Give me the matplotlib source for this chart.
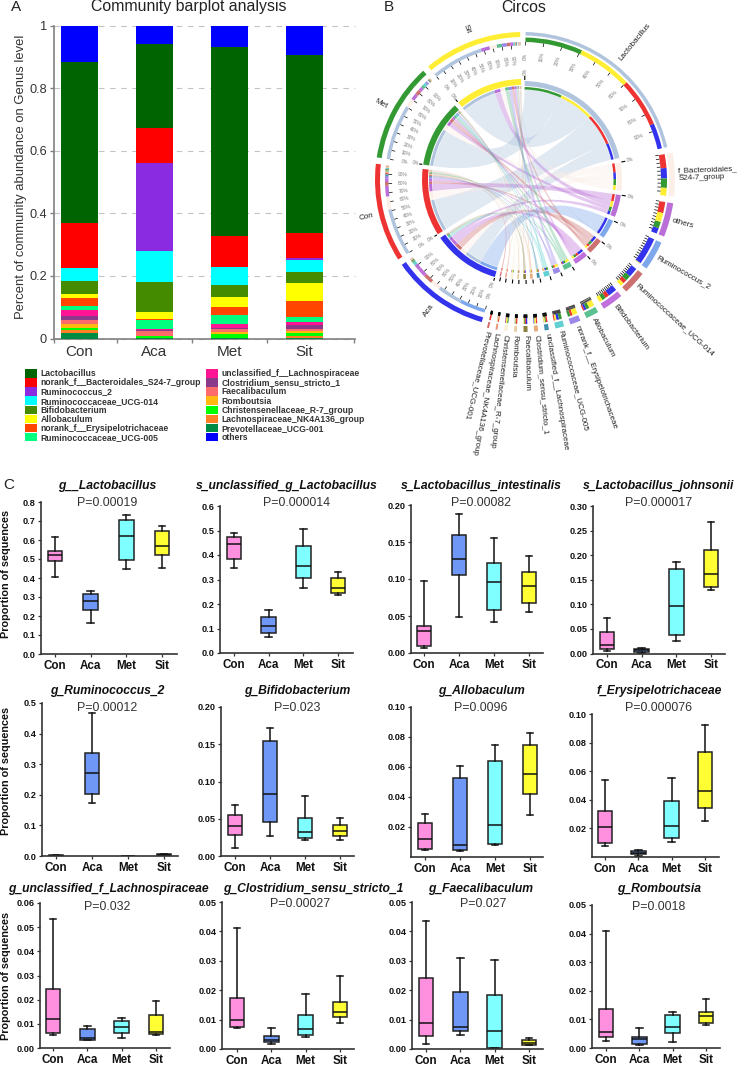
import matplotlib
matplotlib.use('Agg')
import matplotlib.pyplot as plt
from matplotlib.patches import Wedge, PathPatch, Patch
from matplotlib.path import Path
import numpy as np

plt.rcParams['font.family'] = ['Liberation Sans', 'DejaVu Sans']

W, H = 739, 1065

groups = ['Con', 'Aca', 'Met', 'Sit']

# stacked abundance, bottom of the bar first
genera = ['Prevotellaceae_UCG-001', 'Lachnospiraceae_NK4A136_group', 'Christensenellaceae_R-7_group',
          'Romboutsia', 'Faecalibaculum', 'Clostridium_sensu_stricto_1', 'unclassified_f__Lachnospiraceae',
          'Ruminococcaceae_UCG-005', 'norank_f__Erysipelotrichaceae', 'Allobaculum', 'Bifidobacterium',
          'Ruminococcaceae_UCG-014', 'Ruminococcus_2', 'norank_f__Bacteroidales_S24-7_group', 'Lactobacillus',
          'others']
con = [.016, .011, .006, .013, .013, .014, .017, .013, .025, .014, .041, .041, .001, .143, .516, .116]
aca = [.001, .002, .004, .002, .014, .005, .003, .028, .002, .024, .094, .100, .283, .109, .270, .059]
met = [.001, .001, .013, .006, .008, .006, .011, .030, .024, .032, .040, .056, .001, .097, .606, .068]
sit = [.001, .006, .011, .006, .005, .013, .011, .016, .052, .057, .035, .037, .006, .081, .570, .093]
bar_colors = ['#008B45', '#FF7F24', '#00FF00', '#FFB90F', '#FF6A6A', '#8B3A8B', '#FF1493', '#00FF7F',
              '#FF4500', '#FFFF00', '#458B00', '#00FFFF', '#8A2BE2', '#FF0000', '#006400', '#0000FF']

# circos
circos_order = ['Lactobacillus', 'norank_f__Bacteroidales_S24-7_group', 'others', 'Ruminococcus_2',
                'Ruminococcaceae_UCG-014', 'Bifidobacterium', 'Allobaculum', 'norank_f__Erysipelotrichaceae',
                'Ruminococcaceae_UCG-005', 'unclassified_f__Lachnospiraceae', 'Clostridium_sensu_stricto_1',
                'Faecalibaculum', 'Romboutsia', 'Christensenellaceae_R-7_group', 'Lachnospiraceae_NK4A136_group',
                'Prevotellaceae_UCG-001']
circos_labels = ['Lactobacillus', 'f_Bacteroidales_\nS24-7_group', 'others', 'Ruminococcus_2',
                 'Ruminococcaceae_UCG-014', 'Bifidobacterium', 'Allobaculum', 'norank_f__Erysipelotrichaceae',
                 'Ruminococcaceae_UCG-005', 'unclassified_f__Lachnospiraceae', 'Clostridium_sensu_stricto_1',
                 'Faecalibaculum', 'Romboutsia', 'Christensenellaceae_R-7_group', 'Lachnospiraceae_NK4A136_group',
                 'Prevotellaceae_UCG-001']
circos_colors = ['#B0C4DE', '#FBEFE8', '#BA6FD8', '#7FA8EC', '#CD7070', '#C070DC', '#5CC090', '#9C88E8',
                 '#60D0D0', '#4090B0', '#E8A878', '#8B8040', '#E8CCA0', '#FAF0D8', '#E89878', '#D86868']
circos_groups = ['Aca', 'Con', 'Met', 'Sit']
group_colors = {'Con': '#EE3333', 'Aca': '#3333EE', 'Met': '#339933', 'Sit': '#FFEE33'}

# box plots: whisker low, q1, median, q3, whisker high for Con, Aca, Met, Sit
box_lacto = [[.405, .49, .52, .54, .615], [.165, .23, .28, .315, .33], [.445, .495, .62, .705, .73], [.455, .52, .57, .645, .675]]
box_unclass = [[.345, .385, .445, .475, .49], [.065, .08, .11, .145, .175], [.265, .305, .355, .435, .505], [.235, .245, .265, .305, .33]]
box_intest = [[.007, .01, .03, .037, .097], [.049, .105, .127, .16, .188], [.042, .058, .096, .122, .156], [.055, .067, .091, .109, .131]]
box_johns = [[.005, .01, .018, .043, .073], [.002, .004, .007, .01, .012], [.025, .037, .096, .171, .187], [.13, .135, .161, .21, .268]]
box_rumino = [[0, .0005, .001, .002, .003], [.172, .204, .27, .338, .468], [0, .0003, .0005, .001, .0015], [.001, .003, .004, .006, .008]]
box_bifido = [[.011, .028, .04, .055, .069], [.027, .046, .083, .154, .172], [.022, .024, .032, .051, .081], [.022, .027, .034, .041, .051]]
box_allo = [[.005, .0055, .012, .0225, .0285], [.004, .0045, .008, .053, .061], [.008, .009, .0215, .064, .075], [.028, .042, .0555, .0745, .083]]
box_erys = [[.008, .0095, .021, .032, .054], [.001, .002, .003, .004, .005], [.0105, .013, .022, .0395, .0555], [.0255, .0345, .046, .0735, .0925]]
box_lachno = [[.0055, .0062, .012, .0243, .0532], [.0032, .0034, .0042, .008, .009], [.004, .0063, .0085, .0112, .0126], [.0055, .006, .0067, .0138, .0195]]
box_clost = [[.007, .0074, .0098, .0175, .041], [.0017, .0023, .003, .0045, .0073], [.004, .0048, .0067, .0115, .0187], [.0089, .011, .0125, .016, .0249]]
box_faecal = [[.0018, .0045, .009, .024, .0435], [.0047, .006, .0075, .0193, .031], [.0002, .0004, .006, .0183, .0303], [.0012, .0014, .002, .003, .0037]]
box_romb = [[.0023, .0038, .0057, .0137, .0408], [.001, .0014, .003, .0038, .007], [.0022, .0052, .0073, .0115, .0125], [.0082, .0088, .0113, .0126, .0173]]
box_data = [box_lacto, box_unclass, box_intest, box_johns, box_rumino, box_bifido,
            box_allo, box_erys, box_lachno, box_clost, box_faecal, box_romb]
box_titles = ['g__Lactobacillus', 's_unclassified_g_Lactobacillus', 's_Lactobacillus_intestinalis', 's_Lactobacillus_johnsonii',
              'g_Ruminococcus_2', 'g_Bifidobacterium', 'g_Allobaculum', 'f_Erysipelotrichaceae',
              'g_unclassified_f_Lachnospiraceae', 'g_Clostridium_sensu_stricto_1', 'g_Faecalibaculum', 'g_Romboutsia']
box_pvalues = ['P=0.00019', 'P=0.000014', 'P=0.00082', 'P=0.000017', 'P=0.00012', 'P=0.023',
               'P=0.0096', 'P=0.000076', 'P=0.032', 'P=0.00027', 'P=0.027', 'P=0.0018']
box_ymax = [.8, .6, .2, .3, .5, .2, .1, .1, .06, .05, .05, .05]
box_ystep = [.1, .1, .05, .05, .1, .05, .02, .02, .01, .01, .01, .01]
box_ylabel_fmt = ['%.1f', '%.1f', '%.2f', '%.2f', '%.1f', '%.2f', '%.2f', '%.2f', '%.2f', '%.2f', '%.2f', '%.2f']
box_colors = ['#FF90E0', '#6F97F5', '#7FFFFF', '#FFFF33']

# axes in pixels: left, bottom, right, top, first box centre, last box centre
box_layout = [(41, 654, 177, 502, 55, 162), (220, 653, 353, 506, 234, 338),
              (411, 653, 543, 505, 424, 529), (593, 653.5, 725, 506, 607, 711),
              (42, 856, 178, 703, 56, 164), (221, 856, 354, 707, 235, 340),
              (411, 857, 543, 707, 425, 530), (592, 857, 719, 714, 605, 705),
              (40, 1048, 170, 903, 53, 156), (222, 1049, 354, 902, 237, 340),
              (412, 1049, 543, 902, 426, 529), (592, 1048, 720, 905, 606, 706)]
title_pos = [(107, 486), (287, 486), (481, 486), (659, 486), (107, 691), (297, 691),
             (481, 691), (659, 691), (108, 889), (313, 889), (481, 889), (659, 889)]
pvalue_pos = [(107, 503), (297, 503), (481, 503), (659, 503), (107, 708), (297, 708),
              (481, 708), (659, 708), (107, 907), (300, 904), (483, 904), (659, 907)]


def px_axes(left, bottom, right, top, **kw):
    return fig.add_axes([left / W, 1 - bottom / H, (right - left) / W, (bottom - top) / H], **kw)


def px_text(x, y, s, **kw):
    kw.setdefault('ha', 'center')
    kw.setdefault('va', 'center')
    fig.text(x / W, 1 - y / H, s, **kw)


fig = plt.figure(figsize=(W / 100, H / 100), dpi=100)

# ---- A: barplot ----
px_text(16, 7, 'A', fontsize=11, color='#222222')
px_text(189, 7, 'Community barplot analysis', fontsize=11.4, color='#222222')
ax = px_axes(54, 338.5, 355, 25.5)
stack = np.array([con, aca, met, sit])
x = np.arange(4)
bottoms = np.zeros(4)
bars = {}
for i, name in enumerate(genera):
    bars[name] = ax.bar(x, stack[:, i], 0.49, bottom=bottoms, color=bar_colors[i], zorder=3)
    bottoms = bottoms + stack[:, i]
ax.set_xlim((54 - 79.5) / 75, (355 - 79.5) / 75)
ax.set_ylim(0, 1)
ax.set_yticks([0, .2, .4, .6, .8, 1])
ax.set_yticklabels(['0', '0.2', '0.4', '0.6', '0.8', '1'], fontsize=9.2, color='#333333')
ax.set_xticks([-0.34, .5, 1.5, 2.5, 3.66])
ax.set_xticklabels([])
ax.set_xticks(x, minor=True)
ax.set_xticklabels(groups, minor=True, fontsize=11, color='#333333')
ax.tick_params(axis='x', which='major', length=3, color='#808080', width=1)
ax.tick_params(axis='x', which='minor', length=0, pad=5)
ax.tick_params(axis='y', length=3, color='#808080', width=1, pad=2)
ax.grid(axis='y', color='#c4c4c4', linestyle=(0, (5, 5)), linewidth=.8, zorder=0)
ax.set_axisbelow(True)
for s in ['top', 'right']:
    ax.spines[s].set_visible(False)
for s in ['left', 'bottom']:
    ax.spines[s].set_color('#808080')
    ax.spines[s].set_linewidth(1.2)
for gl in ax.get_ygridlines():
    gl.set_clip_on(False)
ax.set_ylabel('Percent of community abundance on Genus level', fontsize=9.4, color='#333333')
ax.yaxis.set_label_coords(-.09, .516)

legend_names = genera[-2::-1] + ['others']
handles = [Patch(facecolor=bar_colors[genera.index(n)], label=n) for n in legend_names]
fig.legend(handles=handles, ncol=2, loc='upper left', bbox_to_anchor=(22 / W, 1 - 366.5 / H), frameon=False,
           labelspacing=0, handlelength=1.4, handleheight=1.13, handletextpad=.45,
           columnspacing=.55, borderpad=0.3, borderaxespad=0,
           prop={'size': 6.2, 'weight': 'bold'}, labelcolor='#333333')

# ---- B: circos ----
px_text(389, 7, 'B', fontsize=11, color='#222222')
px_text(524, 7, 'Circos', fontsize=11.4, color='#222222')
cx, cy = 523, 180
cax = fig.add_axes([0, 0, 1, 1], zorder=-1)
cax.set_xlim(-cx, W - cx)
cax.set_ylim(cy - H, cy)
cax.axis('off')

SCALE = 38.8
GAP = 2.5
START = 1.0


def polar(r, a):
    t = np.radians(a)
    return r * np.sin(t), r * np.cos(t)


def arc(r0, r1, a0, a1, color, z=3):
    cax.add_patch(Wedge((0, 0), r1, 90 - a1, 90 - a0, width=r1 - r0, facecolor=color, edgecolor='none', zorder=z))


def tick(r0, r1, a, lw=.5):
    p, q = polar(r0, a), polar(r1, a)
    cax.plot([p[0], q[0]], [p[1], q[1]], color='black', lw=lw, solid_capstyle='butt', zorder=4)


def pct_label(r, a, s):
    rot = 90 - a if a < 180 else 270 - a
    px, py = polar(r, a)
    cax.text(px, py, s, fontsize=3.5, color='#777777', rotation=rot, ha='center', va='center', rotation_mode='anchor')


def ribbon(a0, a1, b0, b1, color, r=90.5):
    ta = np.linspace(a0, a1, 12)
    tb = np.linspace(b0, b1, 12)
    pa = [polar(r, t) for t in ta]
    pb = [polar(r, t) for t in tb]
    verts = pa + [(0, 0), pb[0]] + pb[1:] + [(0, 0), pa[0], pa[0]]
    codes = [Path.MOVETO] + [Path.LINETO] * 11 + [Path.CURVE3, Path.CURVE3] + [Path.LINETO] * 11 + \
            [Path.CURVE3, Path.CURVE3, Path.CLOSEPOLY]
    cax.add_patch(PathPatch(Path(verts, codes), facecolor=color, edgecolor='none', alpha=.38, zorder=2))


mat = np.array([[stack[groups.index(g), genera.index(n)] for g in circos_groups] for n in circos_order])
sp_total = mat.sum(axis=1)
gr_total = mat.sum(axis=0)

a = START
sp_start = []
for t in sp_total:
    sp_start.append(a)
    a += t * SCALE + GAP
gr_start = []
for t in gr_total:
    gr_start.append(a)
    a += t * SCALE + GAP

# where each link lands on both sides, largest share first
sp_seg = {}
for i in range(len(circos_order)):
    pos = sp_start[i]
    for j in np.argsort(-mat[i]):
        sp_seg[(i, j)] = (pos, pos + mat[i, j] * SCALE)
        pos += mat[i, j] * SCALE
gr_seg = {}
for j in range(len(circos_groups)):
    pos = gr_start[j]
    for i in np.argsort(-mat[:, j]):
        gr_seg[(i, j)] = (pos, pos + mat[i, j] * SCALE)
        pos += mat[i, j] * SCALE

for i in range(len(circos_order)):
    for j in range(len(circos_groups)):
        ribbon(*sp_seg[(i, j)], *gr_seg[(i, j)], circos_colors[i])

for i, name in enumerate(circos_order):
    a0 = sp_start[i]
    a1 = a0 + sp_total[i] * SCALE
    big = i == 0
    arc(144.5 if big else 146, 148 if big else 152, a0, a1, circos_colors[i])
    arc(94, 99, a0, a1, circos_colors[i])
    for j, g in enumerate(circos_groups):
        s0, s1 = sp_seg[(i, j)]
        arc(138, 142.5 if big else 144, s0, s1, group_colors[g])
        arc(90.5, 93, s0, s1, group_colors[g])
    for k in range(10):
        ta = a0 + (a1 - a0) * k / 10
        tick(134.5, 138, ta)
        if big:
            pct_label(124, ta, '%d%%' % (k * 10))
    tick(100, 104, a0, lw=.8)
    if sp_total[i] > .2:
        pct_label(109, a0, '0%')
    mid = (a0 + a1) / 2
    px, py = polar(155, mid)
    cax.text(px, py, circos_labels[i], fontsize=5.8, color='#222222', rotation=90 - mid, rotation_mode='anchor',
             ha='left', va='center', linespacing=1.1)

for j, g in enumerate(circos_groups):
    a0 = gr_start[j]
    a1 = a0 + gr_total[j] * SCALE
    arc(143, 148, a0, a1, group_colors[g])
    arc(95, 101, a0, a1, group_colors[g])
    for i in range(len(circos_order)):
        s0, s1 = gr_seg[(i, j)]
        arc(134.5, 138, s0, s1, circos_colors[i])
        arc(91, 94, s0, s1, circos_colors[i])
    for k in range(10):
        ta = a0 + (a1 - a0) * k / 10
        tick(131, 134.5, ta)
        pct_label(120, ta, '%d%%' % (k * 10))
    tick(102, 105, a0, lw=.8)
    pct_label(109, a0, '0%')
    mid = (a0 + a1) / 2
    px, py = polar(161, mid)
    cax.text(px, py, g, fontsize=5.8, color='#222222', rotation=270 - mid, rotation_mode='anchor', ha='center', va='center')

# ---- C: box plots ----
px_text(9, 485, 'C', fontsize=11, color='#222222')
for n, data in enumerate(box_data):
    left, bottom, right, top, c0, c3 = box_layout[n]
    step = (c3 - c0) / 3
    ax = px_axes(left, bottom, right, top)
    stats = [dict(whislo=d[0], q1=d[1], med=d[2], q3=d[3], whishi=d[4], fliers=[]) for d in data]
    edge = dict(color='#111111', linewidth=1.1)
    res = ax.bxp(stats, positions=range(4), widths=14.6 / step, capwidths=6.5 / step, patch_artist=True,
                 showfliers=False, manage_ticks=False, boxprops=dict(linewidth=1.1, edgecolor='#222222'),
                 medianprops=edge, whiskerprops=edge, capprops=edge)
    for b, c in zip(res['boxes'], box_colors):
        b.set_facecolor(c)
    ax.set_xlim((left - c0) / step, (right - c0) / step)
    ax.set_ylim(0, box_ymax[n])
    ticks = np.arange(0, box_ymax[n] + box_ystep[n] / 2, box_ystep[n])
    labels = [box_ylabel_fmt[n] % t for t in ticks]
    if n in (6, 7):
        ticks, labels = ticks[1:], labels[1:]
    ax.set_yticks(ticks)
    ax.set_yticklabels(labels, fontsize=6.6, fontweight='bold', color='#111111')
    ax.set_xticks(range(4))
    ax.set_xticklabels(groups, fontsize=8.4, fontweight='bold', color='#111111')
    ax.tick_params(axis='both', length=2.2, width=.9, color='#333333')
    ax.tick_params(axis='y', pad=1.5)
    ax.tick_params(axis='x', pad=2)
    for s in ['top', 'right']:
        ax.spines[s].set_visible(False)
    for s in ['left', 'bottom']:
        ax.spines[s].set_color('#333333')
        ax.spines[s].set_linewidth(1.2)
    px_text(*title_pos[n], box_titles[n], fontsize=8.7, fontweight='bold', fontstyle='italic', color='#111111')
    px_text(*pvalue_pos[n], box_pvalues[n], fontsize=8.9, color='#333333')

for ymid in [574, 771, 976]:
    px_text(6, ymid, 'Proportion of sequences', fontsize=7.8, fontweight='bold', color='#111111', rotation=90)

fig.savefig('out.png', dpi=100)
